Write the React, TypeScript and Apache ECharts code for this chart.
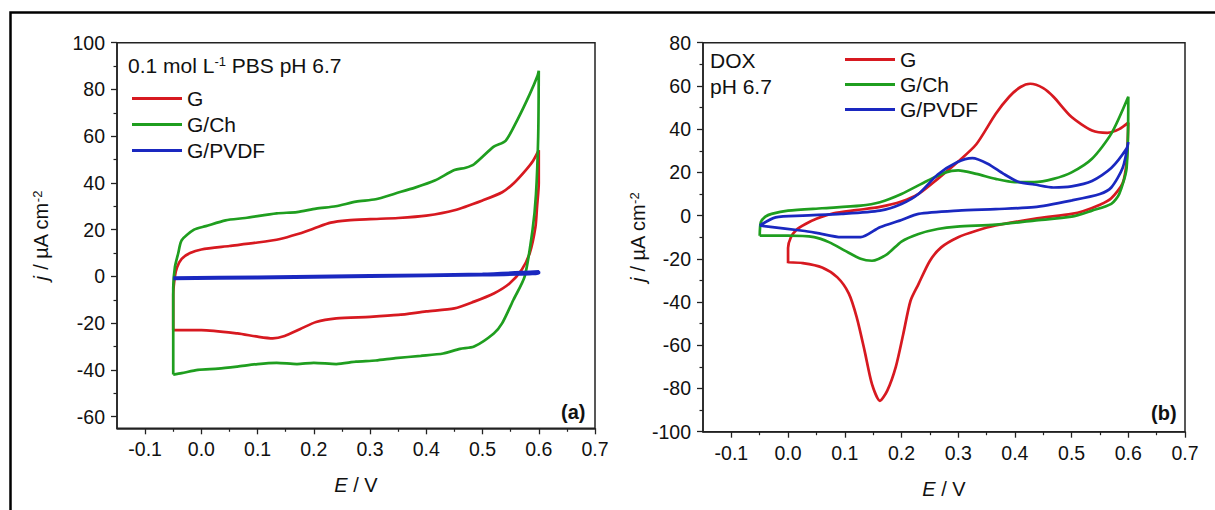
import React, { useEffect, useRef } from "react";
import * as echarts from "echarts";

// ---- tick values ----
const xMajor = [-0.1, 0, 0.1, 0.2, 0.3, 0.4, 0.5, 0.6, 0.7];
const xMinor = [-0.05, 0.05, 0.15, 0.25, 0.35, 0.45, 0.55, 0.65];
const yMajorA = [-60, -40, -20, 0, 20, 40, 60, 80, 100];
const yMinorA = [-50, -30, -10, 10, 30, 50, 70, 90];
const yMajorB = [-100, -80, -60, -40, -20, 0, 20, 40, 60, 80];
const yMinorB = [-90, -70, -50, -30, -10, 10, 30, 50, 70];

const seriesNames = ["G", "G/Ch", "G/PVDF"];

// ---- panel (a): 0.1 mol/L PBS pH 6.7 ----
const aG_E = [-0.05, -0.05, -0.047, -0.043, -0.035, -0.02, 0.0, 0.05, 0.1, 0.14, 0.17, 0.2, 0.23, 0.26, 0.3, 0.35, 0.4, 0.45, 0.5, 0.535, 0.556, 0.577, 0.59, 0.6,
  0.6, 0.597, 0.594, 0.584, 0.57, 0.548, 0.52, 0.485, 0.45, 0.4, 0.35, 0.3, 0.24, 0.204, 0.176, 0.148, 0.127, 0.1, 0.064, 0.0, -0.045, -0.05];
const aG_j = [-23, -8, 0, 4, 7.5, 10, 11.5, 13, 14.5, 16, 18, 20.5, 23, 24, 24.5, 25, 26, 28.3, 32.5, 36, 40, 45.5, 49.5, 54,
  40, 30, 21, 10, 3, -3, -7.3, -10.8, -13.7, -15, -16.5, -17.3, -18, -19.5, -22.5, -25.5, -26.5, -25.8, -24.4, -23, -23, -23];

const aCh_E = [-0.05, -0.05, -0.047, -0.041, -0.035, -0.013, 0.008, 0.043, 0.078, 0.134, 0.17, 0.204, 0.239, 0.275, 0.31, 0.345, 0.38, 0.415, 0.45, 0.47, 0.485, 0.52, 0.541, 0.562, 0.584, 0.598, 0.6,
  0.6, 0.599, 0.595, 0.589, 0.575, 0.555, 0.535, 0.52, 0.485, 0.46, 0.43, 0.39, 0.345, 0.31, 0.275, 0.24, 0.2, 0.17, 0.134, 0.1, 0.064, 0.03, -0.006, -0.035, -0.05];
const aCh_j = [-42, -5, 4, 10, 15.5, 20, 21.5, 24, 25, 27, 27.5, 29, 30, 32, 33, 35.5, 38, 41, 45.5, 46.5, 48, 55.5, 58, 67, 78, 86, 88,
  88, 60, 35, 20, 0, -10, -20, -24.4, -30, -31, -33, -34, -35, -36, -36.5, -37.5, -37, -37.5, -37, -37.5, -38.6, -39.5, -40, -41.4, -42];

const aPV_E = [-0.05, 0.1, 0.3, 0.5, 0.6, 0.6, 0.5, 0.3, 0.1, -0.05];
const aPV_j = [-0.6, -0.3, 0.3, 1.0, 2.0, 1.4, 0.6, 0.0, -0.6, -1.0];

// ---- panel (b): DOX pH 6.7 ----
const bG_E = [0.0, 0.0, 0.005, 0.015, 0.03, 0.05, 0.08, 0.12, 0.162, 0.2, 0.23, 0.264, 0.3, 0.332, 0.366, 0.39, 0.41, 0.427, 0.45, 0.468, 0.5, 0.536, 0.563, 0.584, 0.6,
  0.6, 0.597, 0.59, 0.57, 0.55, 0.52, 0.5, 0.434, 0.366, 0.332, 0.3, 0.27, 0.25, 0.23, 0.216, 0.203, 0.19, 0.175, 0.162, 0.148, 0.135, 0.121, 0.107, 0.087, 0.06, 0.026, 0.0];
const bG_j = [-22, -15, -10, -6.5, -4, -1.5, 1, 2.5, 4, 6.5, 10, 17, 25, 33, 47, 55, 59.5, 61, 59, 55, 45.6, 39.4, 38.3, 40, 43,
  43, 25, 15, 8, 5, 2, 0.8, -1.5, -4.6, -7, -10, -14.7, -21, -31.7, -39.4, -55, -70, -81, -85.7, -78, -62.6, -47, -36, -28.6, -24, -22, -21.6];

const bCh_E = [-0.05, -0.048, -0.04, -0.029, 0.0, 0.06, 0.128, 0.162, 0.2, 0.245, 0.278, 0.3, 0.332, 0.366, 0.4, 0.434, 0.468, 0.5, 0.536, 0.57, 0.6,
  0.6, 0.597, 0.584, 0.57, 0.536, 0.5, 0.434, 0.366, 0.298, 0.264, 0.23, 0.2, 0.175, 0.148, 0.128, 0.1, 0.073, 0.046, 0.0, -0.05];
const bCh_j = [-9.3, -3, -0.5, 0.8, 2.3, 3.4, 4.6, 6.2, 10, 16, 20, 20.9, 19.3, 17, 15.5, 15.5, 17, 20, 26.3, 37.9, 55,
  55, 22, 10, 5.4, 2.3, -0.5, -2.3, -4.2, -5.1, -6.2, -8.5, -12, -17.8, -20.9, -20, -16.2, -12.4, -10, -9.3, -9.3];

const bPV_E = [-0.05, -0.022, 0.026, 0.094, 0.162, 0.2, 0.23, 0.264, 0.298, 0.325, 0.352, 0.38, 0.407, 0.434, 0.468, 0.5, 0.536, 0.57, 0.597, 0.6,
  0.6, 0.59, 0.57, 0.55, 0.5, 0.434, 0.366, 0.3, 0.23, 0.2, 0.162, 0.128, 0.094, 0.05, 0.026, -0.05];
const bPV_j = [-4.6, -0.8, 0, 0.8, 2.3, 5.4, 10, 19, 24.7, 26.6, 24, 19.3, 15.5, 14.4, 13, 13.5, 16, 22, 31, 34,
  34, 22, 13, 10, 7, 3.9, 3, 2.3, 0.8, -2, -5.4, -10, -10, -8, -7, -4.6];

const colors = ["#d71920", "#1f9e1f", "#1a28c0"];
const FONT = "'Liberation Sans', Arial, Helvetica, sans-serif";

function zip(e: number[], j: number[]) {
  return e.map((x, i) => [x, j[i]]);
}

function mainX(grid: number) {
  return {
    type: "value", gridIndex: grid, min: -0.15, max: 0.7, position: "bottom",
    name: "{i|E} / V", nameLocation: "middle", nameGap: 47,
    nameTextStyle: { fontSize: 20, color: "#111", fontFamily: FONT, rich: { i: { fontStyle: "italic", fontSize: 20, fontFamily: FONT } } },
    axisLine: { show: true, onZero: false, lineStyle: { color: "#222", width: 1.5 } },
    axisTick: { show: true, length: 6, customValues: xMajor, lineStyle: { color: "#222", width: 1.3 } },
    axisLabel: { customValues: xMajor, margin: 11, fontSize: 19.5, color: "#111", fontFamily: FONT, formatter: (v: number) => v.toFixed(1) },
    splitLine: { show: false },
  };
}
function minorX(grid: number) {
  return {
    type: "value", gridIndex: grid, min: -0.15, max: 0.7, position: "bottom",
    axisLine: { show: false, onZero: false },
    axisTick: { show: true, length: 3.5, customValues: xMinor, lineStyle: { color: "#222", width: 1.2 } },
    axisLabel: { show: false }, splitLine: { show: false },
  };
}
function mainY(grid: number, min: number, max: number, major: number[], gap: number) {
  return {
    type: "value", gridIndex: grid, min, max, position: "left",
    name: "{i|j} / µA cm{s|-2}", nameLocation: "middle", nameGap: gap, nameRotate: 90,
    nameTextStyle: { fontSize: 20, color: "#111", fontFamily: FONT, rich: { i: { fontStyle: "italic", fontSize: 20, fontFamily: FONT }, s: { fontSize: 13, verticalAlign: "top", fontFamily: FONT } } },
    axisLine: { show: true, onZero: false, lineStyle: { color: "#222", width: 1.5 } },
    axisTick: { show: true, length: 6, customValues: major, lineStyle: { color: "#222", width: 1.3 } },
    axisLabel: { customValues: major, margin: 12, fontSize: 19.5, color: "#111", fontFamily: FONT },
    splitLine: { show: false },
  };
}
function minorY(grid: number, min: number, max: number, minor: number[]) {
  return {
    type: "value", gridIndex: grid, min, max, position: "left",
    axisLine: { show: false, onZero: false },
    axisTick: { show: true, length: 3.5, customValues: minor, lineStyle: { color: "#222", width: 1.2 } },
    axisLabel: { show: false }, splitLine: { show: false },
  };
}

function line(name: string, color: string, data: number[][], xi: number, yi: number, width = 2.7) {
  return {
    type: "line", name, data, xAxisIndex: xi, yAxisIndex: yi,
    showSymbol: false, symbol: "none", smooth: 0.25, color,
    lineStyle: { color, width }, z: 3,
  };
}

function legend(left: number, top: number, gap: number) {
  return {
    data: seriesNames, orient: "vertical", left, top, icon: "rect",
    itemWidth: 50, itemHeight: 3, itemGap: gap, selectedMode: false,
    textStyle: { fontSize: 21, color: "#111", fontFamily: FONT, lineHeight: 21 },
  };
}

export default function App() {
  const ref = useRef<HTMLDivElement>(null);
  useEffect(() => {
    if (!ref.current) return;
    const chart = echarts.init(ref.current, null, { renderer: "svg" });
    chart.setOption({
      animation: false,
      backgroundColor: "#ffffff",
      grid: [
        { left: 117, top: 42.7, width: 478, height: 385.6, show: true, borderColor: "#222", borderWidth: 1.5, backgroundColor: "#fff" },
        { left: 703, top: 42.7, width: 482, height: 389, show: true, borderColor: "#222", borderWidth: 1.5, backgroundColor: "#fff" },
      ],
      xAxis: [mainX(0), minorX(0), mainX(1), minorX(1)],
      yAxis: [
        mainY(0, -65, 100, yMajorA, 66), minorY(0, -65, 100, yMinorA),
        mainY(1, -100, 80, yMajorB, 48), minorY(1, -100, 80, yMinorB),
      ],
      legend: [legend(127, 83, 5), legend(840, 44, 4)],
      series: [
        line("G", colors[0], zip(aG_E, aG_j), 0, 0),
        line("G/Ch", colors[1], zip(aCh_E, aCh_j), 0, 0),
        line("G/PVDF", colors[2], zip(aPV_E, aPV_j), 0, 0, 3.2),
        line("G", colors[0], zip(bG_E, bG_j), 2, 2),
        line("G/Ch", colors[1], zip(bCh_E, bCh_j), 2, 2),
        line("G/PVDF", colors[2], zip(bPV_E, bPV_j), 2, 2),
      ],
      graphic: [
        { type: "rect", left: 8, top: 10, shape: { width: 1230, height: 520 }, style: { fill: "none", stroke: "#000", lineWidth: 2.5 }, z: 10 },
        {
          type: "text", left: 128, top: 55, z: 10,
          style: { text: "0.1 mol L{s|-1} PBS pH 6.7", fontSize: 21, fill: "#111", fontFamily: FONT,
            rich: { s: { fontSize: 13, verticalAlign: "top", fontFamily: FONT, fill: "#111" } } },
        },
        { type: "text", left: 710, top: 50, z: 10, style: { text: "DOX", fontSize: 21, fill: "#111", fontFamily: FONT } },
        { type: "text", left: 710, top: 76, z: 10, style: { text: "pH 6.7", fontSize: 21, fill: "#111", fontFamily: FONT } },
        { type: "text", left: 561, top: 402, z: 10, style: { text: "(a)", fontSize: 20, fontWeight: "bold", fill: "#111", fontFamily: FONT } },
        { type: "text", left: 1151, top: 403, z: 10, style: { text: "(b)", fontSize: 20, fontWeight: "bold", fill: "#111", fontFamily: FONT } },
      ],
    });
    return () => chart.dispose();
  }, []);
  return <div ref={ref} style={{ position: "fixed", left: 0, top: 0, width: 1215, height: 510 }} />;
}
